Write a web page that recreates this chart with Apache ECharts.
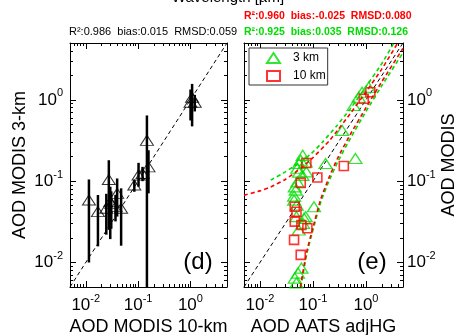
<!DOCTYPE html>
<html>
<head>
<meta charset="utf-8">
<script src="https://cdn.jsdelivr.net/npm/echarts@6/dist/echarts.min.js"></script>
<style>
  html, body { margin: 0; padding: 0; background: #fff; }
  #chart { width: 456px; height: 335px; }
</style>
</head>
<body>
<div id="chart"></div>
<script>
// ---- axis range and ticks (both panels share log-log scales) ----
const axisRange = [0.005, 5];
const majorTicks = [0.01, 0.1, 1];
const minorTicks = [0.006, 0.007, 0.008, 0.009,
  0.02, 0.03, 0.04, 0.05, 0.06, 0.07, 0.08, 0.09,
  0.2, 0.3, 0.4, 0.5, 0.6, 0.7, 0.8, 0.9, 2, 3, 4];

// ---- panel (d): MODIS 10-km vs MODIS 3-km, with 3-km range bars ----
const modis10km   = [0.0115, 0.0171, 0.0276, 0.0247, 0.0294, 0.0307, 0.0398, 0.0370, 0.0474, 0.0847, 0.102, 0.1217, 0.1475, 0.158, 1.077, 1.21, 1.005];
const modis3km    = [0.0587, 0.0423, 0.105, 0.0465, 0.056, 0.0535, 0.0709, 0.0486, 0.0465, 0.0896, 0.119, 0.1245, 0.318, 0.150, 1.076, 0.935, 0.935];
const modis3kmLow = [0.0100, 0.0158, 0.0252, 0.0220, 0.0194, 0.0260, 0.0367, 0.0320, 0.0161, 0.0741, 0.0855, 0.100, 0.002, 0.0709, 0.472, 0.72, 0.558];
const modis3kmHigh= [0.105, 0.0676, 0.181, 0.070, 0.0855, 0.075, 0.108, 0.068, 0.0817, 0.103, 0.168, 0.150, 0.643, 0.240, 1.57, 1.15, 1.34];

// ---- panel (e): AATS adjHG vs MODIS (3 km and 10 km) ----
const aats3km  = [0.0546, 0.0588, 0.0729, 0.0641, 0.0509, 0.0632, 0.0546, 0.0509, 0.0473, 0.0441, 0.0494, 0.0488, 0.0649, 0.0539, 0.0729, 0.1044, 0.173, 0.356, 0.632, 0.587, 0.845, 1.124, 0.729, 0.0606, 0.0523, 0.0454, 0.0488, 0.0441, 0.0752, 0.0454, 0.0678];
const modisE3km = [0.165, 0.181, 0.172, 0.208, 0.144, 0.118, 0.129, 0.098, 0.0776, 0.0585, 0.0508, 0.0366, 0.0303, 0.0251, 0.0366, 0.0485, 0.165, 0.421, 0.19, 0.851, 1.239, 1.426, 1.076, 0.00854, 0.00742, 0.00644, 0.0056, 0.0655, 0.13, 0.0851, 0.0349];
const aats10km  = [0.0751, 0.121, 0.382, 0.0588, 0.0454, 0.0489, 0.0454, 0.0605, 0.0785, 0.044, 0.0588, 1.21, 0.906];
const modisE10km = [0.1675, 0.111, 0.154, 0.0953, 0.0485, 0.0421, 0.0318, 0.0289, 0.0264, 0.019, 0.0124, 1.24, 1.03];

// envelope curves
const envUpper10kmX = [0.005, 0.01, 0.016, 0.03, 0.06, 0.1, 0.2, 0.29, 0.5, 1.0, 2.0, 3.9];
const envUpper10kmY = [0.067, 0.076, 0.085, 0.105, 0.145, 0.195, 0.31, 0.42, 0.67, 1.25, 2.4, 4.9];
const envLower10kmX = [0.058, 0.075, 0.1, 0.14, 0.2, 0.29, 0.5, 1.0, 2.0, 5.0];
const envLower10kmY = [0.005, 0.013, 0.027, 0.06, 0.11, 0.19, 0.37, 0.8, 1.68, 4.3];
const envUpper3kmX = [0.016, 0.03, 0.06, 0.093, 0.15, 0.285, 0.51, 1.0, 2.0, 3.3];
const envUpper3kmY = [0.103, 0.13, 0.175, 0.218, 0.30, 0.485, 0.78, 1.45, 2.8, 4.9];
const envLower3kmX = [0.059, 0.076, 0.1, 0.14, 0.2, 0.29, 0.5, 1.0, 2.0, 5.0];
const envLower3kmY = [0.005, 0.0125, 0.025, 0.055, 0.10, 0.17, 0.33, 0.72, 1.5, 3.8];

// ---- texts ----
const topTitle = 'Wavelength [µm]';
const statsD = 'R²:0.986  bias:0.015  RMSD:0.059';
const stats10km = 'R²:0.960  bias:-0.025  RMSD:0.080';
const stats3km = 'R²:0.925  bias:0.035  RMSD:0.126';
const seriesNames = ['3 km', '10 km'];

const FONT = 'Liberation Sans, Arial, Helvetica, sans-serif';
const RED = '#ff0000';
const GREEN = '#00dd00';

const zip = (a, b) => a.map((v, i) => [v, b[i]]);

const tickRich = {
  b: { fontSize: 17, lineHeight: 24, fontFamily: FONT, color: '#000' },
  s: { fontSize: 11, lineHeight: 10, verticalAlign: 'top', fontFamily: FONT, color: '#000' }
};
const powerLabel = (v) => '{b|10}{s|' + Math.round(Math.log10(v)) + '}';

function makeAxis(dim, gridIndex, position, major, opts) {
  opts = opts || {};
  const ax = {
    type: 'log', logBase: 10, gridIndex, position,
    min: axisRange[0], max: axisRange[1],
    axisLine: { show: major, onZero: false, lineStyle: { color: '#000', width: 1 } },
    axisTick: {
      show: true, inside: true, length: major ? 6 : 3,
      customValues: major ? majorTicks : minorTicks,
      lineStyle: { color: '#000', width: 1 }
    },
    axisLabel: { show: false },
    splitLine: { show: false },
    minorTick: { show: false },
    axisPointer: { show: false }
  };
  if (opts.labels) {
    ax.axisLabel = {
      show: true, customValues: majorTicks, formatter: powerLabel, rich: tickRich,
      margin: opts.margin, fontFamily: FONT
    };
  }
  if (opts.name) {
    ax.name = opts.name;
    ax.nameLocation = 'middle';
    ax.nameGap = opts.nameGap;
    if (dim === 'y') ax.nameRotate = 90;
    ax.nameTextStyle = { fontSize: 18, fontFamily: FONT, color: '#000' };
  }
  return ax;
}

// each panel: a boxed frame with major/minor ticks on all four sides
const xAxes = [], yAxes = [];
[0, 1].forEach((g) => {
  xAxes.push(makeAxis('x', g, 'bottom', true, { labels: true, margin: 6,
    name: g === 0 ? 'AOD MODIS 10-km' : 'AOD AATS adjHG', nameGap: 28 }));
  xAxes.push(makeAxis('x', g, 'bottom', false));
  xAxes.push(makeAxis('x', g, 'top', true));
  xAxes.push(makeAxis('x', g, 'top', false));
  if (g === 0) {
    yAxes.push(makeAxis('y', g, 'left', true, { labels: true, margin: 7, name: 'AOD MODIS 3-km', nameGap: 41 }));
    yAxes.push(makeAxis('y', g, 'left', false));
    yAxes.push(makeAxis('y', g, 'right', true));
    yAxes.push(makeAxis('y', g, 'right', false));
  } else {
    yAxes.push(makeAxis('y', g, 'right', true, { labels: true, margin: 4, name: 'AOD MODIS', nameGap: 36 }));
    yAxes.push(makeAxis('y', g, 'right', false));
    yAxes.push(makeAxis('y', g, 'left', true));
    yAxes.push(makeAxis('y', g, 'left', false));
  }
});

const dashed = (color, width) => ({ color, width, type: [4, 3] });

function envLine(name, xs, ys, color) {
  return {
    type: 'line', name, xAxisIndex: 4, yAxisIndex: 4, data: zip(xs, ys),
    symbol: 'none', smooth: 0.15, lineStyle: dashed(color, 1.6), z: 5, silent: true
  };
}

const option = {
  animation: false,
  backgroundColor: '#fff',
  grid: [
    { left: 70, top: 43, width: 157, height: 244, containLabel: false, outerBoundsMode: 'none' },
    { left: 244, top: 43, width: 159, height: 244, containLabel: false, outerBoundsMode: 'none' }
  ],
  xAxis: xAxes,
  yAxis: yAxes,
  legend: {
    data: seriesNames,
    left: 249, top: 48, orient: 'vertical',
    itemWidth: 13, itemHeight: 10, itemGap: 6,
    padding: [4, 2, 3, 17],
    borderColor: '#333', borderWidth: 1, backgroundColor: '#fff',
    textStyle: { fontSize: 12, fontFamily: FONT, color: '#000', padding: [0, 0, 0, 8] }
  },
  graphic: [
    { type: 'text', left: 'center', top: -10,
      style: { text: topTitle, font: '15px ' + FONT, fill: '#000' } },
    { type: 'text', x: 69, y: 32,
      style: { text: statsD, font: '11px ' + FONT, fill: '#000', verticalAlign: 'middle' } },
    { type: 'text', x: 244, y: 16,
      style: { text: stats10km, font: 'bold 10.5px ' + FONT, fill: RED, verticalAlign: 'middle' } },
    { type: 'text', x: 244, y: 32,
      style: { text: stats3km, font: 'bold 10.5px ' + FONT, fill: GREEN, verticalAlign: 'middle' } },
    { type: 'text', x: 198, y: 262,
      style: { text: '(d)', font: '24px ' + FONT, fill: '#000', align: 'center', verticalAlign: 'middle' } },
    { type: 'text', x: 372, y: 262,
      style: { text: '(e)', font: '24px ' + FONT, fill: '#000', align: 'center', verticalAlign: 'middle' } }
  ],
  series: [
    // panel (d)
    {
      type: 'line', xAxisIndex: 0, yAxisIndex: 0, data: [[axisRange[0], axisRange[0]], [axisRange[1], axisRange[1]]],
      symbol: 'none', lineStyle: dashed('#000', 1), silent: true, z: 3
    },
    {
      type: 'custom', xAxisIndex: 0, yAxisIndex: 0, clip: true, silent: true, z: 4,
      data: modis10km.map((x, i) => [x, modis3kmLow[i], modis3kmHigh[i]]),
      encode: { x: 0, y: [1, 2] },
      renderItem: (params, api) => {
        const p1 = api.coord([api.value(0), api.value(1)]);
        const p2 = api.coord([api.value(0), api.value(2)]);
        return { type: 'line', shape: { x1: p1[0], y1: p1[1], x2: p2[0], y2: p2[1] },
          style: { stroke: '#000', lineWidth: 2.5 } };
      }
    },
    {
      type: 'scatter', xAxisIndex: 0, yAxisIndex: 0, data: zip(modis10km, modis3km),
      symbol: 'triangle', symbolSize: [13, 10], z: 5, silent: true,
      itemStyle: { color: 'rgba(0,0,0,0)', borderColor: '#000', borderWidth: 1 }
    },
    // panel (e)
    {
      type: 'line', xAxisIndex: 4, yAxisIndex: 4, data: [[axisRange[0], axisRange[0]], [axisRange[1], axisRange[1]]],
      symbol: 'none', lineStyle: dashed('#000', 1), silent: true, z: 3
    },
    {
      type: 'scatter', name: seriesNames[0], xAxisIndex: 4, yAxisIndex: 4, data: zip(aats3km, modisE3km),
      symbol: 'triangle', symbolSize: [13, 10], z: 4, silent: true,
      itemStyle: { color: 'rgba(0,0,0,0)', borderColor: GREEN, borderWidth: 1.3 }
    },
    {
      type: 'scatter', name: seriesNames[1], xAxisIndex: 4, yAxisIndex: 4, data: zip(aats10km, modisE10km),
      symbol: 'rect', symbolSize: 9, z: 4, silent: true,
      itemStyle: { color: 'rgba(0,0,0,0)', borderColor: RED, borderWidth: 1.6 }
    },
    envLine('up3', envUpper3kmX, envUpper3kmY, GREEN),
    envLine('lo3', envLower3kmX, envLower3kmY, GREEN),
    envLine('up10', envUpper10kmX, envUpper10kmY, RED),
    envLine('lo10', envLower10kmX, envLower10kmY, RED)
  ]
};

const chart = echarts.init(document.getElementById('chart'), null, { renderer: 'canvas' });
chart.setOption(option);
</script>
</body>
</html>
